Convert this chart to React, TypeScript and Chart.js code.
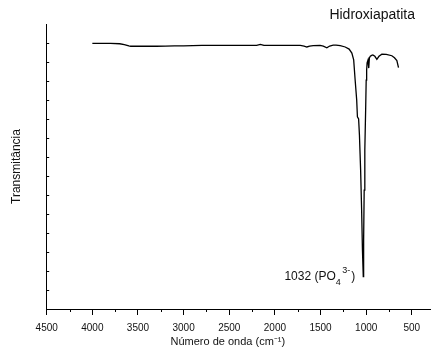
import { useEffect, useRef } from "react";
import { Chart, registerables } from "chart.js";

Chart.register(...registerables);

const wavenumbers = [
  4000, 3900, 3800, 3700, 3650, 3600, 3580, 3500, 3400, 3300, 3200, 3100, 3000,
  2900, 2800, 2700, 2600, 2500, 2400, 2300, 2200, 2160, 2120, 2000, 1900, 1800,
  1722, 1680, 1650, 1620, 1580, 1505, 1470, 1431, 1400, 1362, 1330, 1285, 1230,
  1187, 1157, 1137, 1121, 1104, 1096, 1083, 1074, 1061, 1050, 1041, 1032, 1028,
  1022, 1015, 1006, 1000, 995, 990, 980, 972, 965, 955, 940, 927, 905, 883, 860,
  828, 780, 719, 690, 664, 646,
];

const transmittance = [
  13.98, 13.98, 13.98, 13.96, 13.92, 13.85, 13.83, 13.83, 13.83, 13.83, 13.84,
  13.85, 13.85, 13.86, 13.87, 13.87, 13.88, 13.88, 13.88, 13.88, 13.88, 13.93,
  13.88, 13.88, 13.88, 13.88, 13.87, 13.84, 13.79, 13.83, 13.86, 13.87, 13.83,
  13.75, 13.84, 13.89, 13.89, 13.86, 13.79, 13.68, 13.47, 13.11, 12.05, 11.0,
  10.11, 10.0, 9.16, 7.32, 5.21, 3.11, 1.7, 3.63, 6.26, 8.37, 10.47, 12.05,
  12.58, 12.95, 13.1, 12.68, 13.21, 13.3, 13.35, 13.37, 13.3, 13.14, 13.3, 13.41,
  13.4, 13.33, 13.22, 13.07, 12.7,
];

const xMajorTicks = [4500, 4000, 3500, 3000, 2500, 2000, 1500, 1000, 500];
const xMinorTicks = [4250, 3750, 3250, 2750, 2250, 1750, 1250, 750];
const yTicks = [1, 2, 3, 4, 5, 6, 7, 8, 9, 10, 11, 12, 13, 14];

const chartTitle = "Hidroxiapatita";
const xTitle = "Número de onda (cm⁻¹)";
const yTitle = "Transmitância";
const peakWavenumber = 1032;
const peakLabelMain = "1032 (PO";
const peakLabelSub = "4";
const peakLabelSup = "3-";
const peakLabelEnd = ")";

const FONT = "Arial, 'Liberation Sans', sans-serif";

export default function App() {
  const ref = useRef<HTMLCanvasElement>(null);

  useEffect(() => {
    if (!ref.current) return;
    const extras = {
      id: "extras",
      afterDraw(chart: any) {
        const { ctx, chartArea, scales } = chart;
        const xs = scales.x;
        const ys = scales.y;
        ctx.save();
        ctx.strokeStyle = "#000";
        ctx.lineWidth = 1;
        // minor x ticks
        ctx.beginPath();
        for (const v of xMinorTicks) {
          const px = Math.round(xs.getPixelForValue(v)) + 0.5;
          ctx.moveTo(px, chartArea.bottom);
          ctx.lineTo(px, chartArea.bottom + 3);
        }
        // y ticks inward
        for (const v of yTicks) {
          const py = Math.round(ys.getPixelForValue(v)) + 0.5;
          ctx.moveTo(chartArea.left, py);
          ctx.lineTo(chartArea.left + 2.5, py);
        }
        ctx.stroke();

        ctx.fillStyle = "#111";
        // chart title
        ctx.font = `14px ${FONT}`;
        ctx.textAlign = "right";
        ctx.textBaseline = "middle";
        ctx.fillText(chartTitle, chart.width - 16, 15);

        // x axis title
        ctx.font = `11px ${FONT}`;
        ctx.textAlign = "center";
        ctx.fillText(xTitle, (chartArea.left + chartArea.right) / 2 - 11, 342);

        // peak annotation
        const idx = wavenumbers.indexOf(peakWavenumber);
        const px = xs.getPixelForValue(peakWavenumber);
        const py = ys.getPixelForValue(transmittance[idx]);
        ctx.textAlign = "left";
        ctx.textBaseline = "alphabetic";
        ctx.font = `12px ${FONT}`;
        const wMain = ctx.measureText(peakLabelMain).width;
        const wEnd = ctx.measureText(peakLabelEnd).width;
        ctx.font = `9px ${FONT}`;
        const wSub = ctx.measureText(peakLabelSub).width;
        const wSup = ctx.measureText(peakLabelSup).width;
        const total = wMain + wSub + 1.5 + wSup + 1 + wEnd;
        let x0 = px - 8 - total;
        ctx.font = `12px ${FONT}`;
        ctx.fillText(peakLabelMain, x0, py + 3.5);
        x0 += wMain;
        ctx.font = `9px ${FONT}`;
        ctx.fillText(peakLabelSub, x0, py + 8.5);
        x0 += wSub + 1.5;
        ctx.fillText(peakLabelSup, x0, py - 4);
        x0 += wSup + 1;
        ctx.font = `12px ${FONT}`;
        ctx.fillText(peakLabelEnd, x0, py + 3.5);
        ctx.restore();
      },
    };

    const chart = new Chart(ref.current, {
      type: "line",
      data: {
        datasets: [
          {
            data: wavenumbers.map((w, i) => ({ x: w, y: transmittance[i] })),
            borderColor: "#000",
            borderWidth: 1.3,
            pointRadius: 0,
            tension: 0,
            fill: false,
          },
        ],
      },
      options: {
        animation: false,
        responsive: false,
        maintainAspectRatio: false,
        devicePixelRatio: 1,
        layout: { padding: { top: 24, right: 0, left: 0, bottom: 0 } },
        plugins: {
          legend: { display: false },
          tooltip: { enabled: false },
          title: { display: false },
        },
        scales: {
          x: {
            type: "linear",
            reverse: true,
            min: 290,
            max: 4500,
            afterBuildTicks: (scale: any) => {
              scale.ticks = xMajorTicks.map((v) => ({ value: v }));
            },
            afterFit: (scale: any) => {
              scale.height = 45;
            },
            ticks: {
              autoSkip: false,
              maxRotation: 0,
              padding: 7,
              color: "#111",
              font: { family: FONT, size: 10 },
              callback: (v: any) => String(v),
            },
            grid: {
              display: true,
              drawOnChartArea: false,
              drawTicks: true,
              tickLength: 6,
              color: "#000",
            },
            border: { display: true, color: "#000", width: 1 },
            title: { display: false },
          },
          y: {
            type: "linear",
            min: 0,
            max: 15,
            afterFit: (scale: any) => {
              scale.width = 46.7;
            },
            ticks: { display: false, stepSize: 1 },
            grid: { display: false },
            border: { display: true, color: "#000", width: 1 },
            title: {
              display: true,
              text: yTitle,
              color: "#111",
              font: { family: FONT, size: 12 },
              padding: { top: 9, bottom: 0 },
            },
          },
        },
      },
      plugins: [extras],
    });
    return () => chart.destroy();
  }, []);

  return (
    <div style={{ position: "fixed", left: 0, top: 0, width: 431, height: 354, background: "#fff" }}>
      <canvas ref={ref} width={431} height={354} />
    </div>
  );
}
